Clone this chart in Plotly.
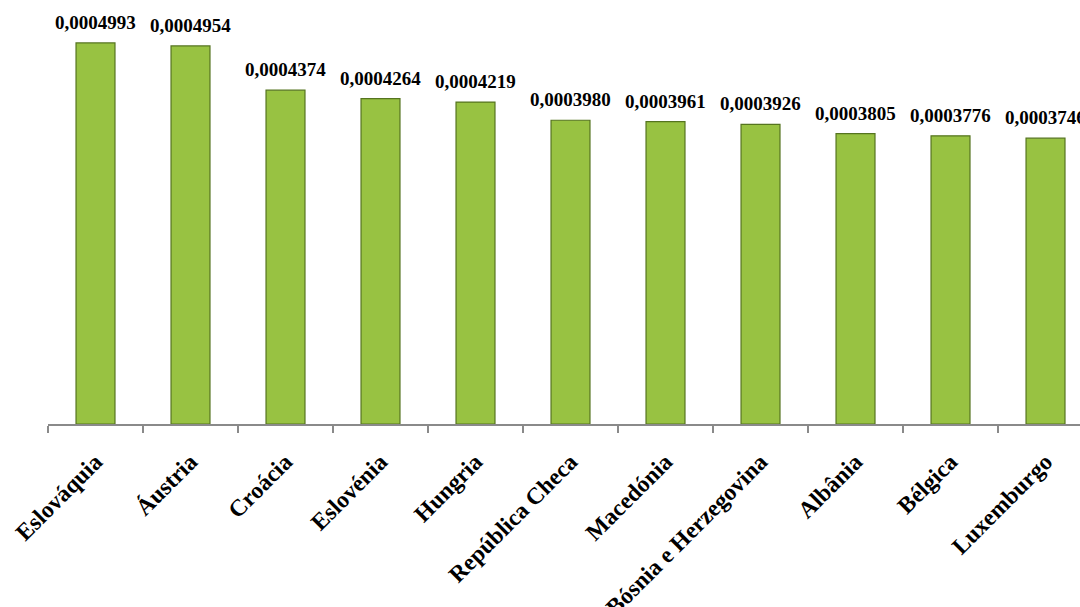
import plotly.graph_objects as go

countries = ["Eslováquia", "Áustria", "Croácia", "Eslovénia", "Hungria", "República Checa",
             "Macedónia", "Bósnia e Herzegovina", "Albânia", "Bélgica", "Luxemburgo"]
values = [0.0004993, 0.0004954, 0.0004374, 0.0004264, 0.0004219, 0.0003980,
          0.0003961, 0.0003926, 0.0003805, 0.0003776, 0.0003746]
labels = ["0,0004993", "0,0004954", "0,0004374", "0,0004264", "0,0004219", "0,0003980",
          "0,0003961", "0,0003926", "0,0003805", "0,0003776", "0,0003746"]

fig = go.Figure()
fig.add_trace(go.Bar(
    x=countries, y=values,
    marker=dict(color="#98c242", line=dict(color="#55741f", width=1.2)),
    width=0.41,
    hoverinfo="x+y",
))

for c, v, t in zip(countries, values, labels):
    fig.add_annotation(
        x=c, y=v, text=t, showarrow=False,
        xanchor="center", yanchor="bottom", yshift=8,
        font=dict(family="Liberation Serif", size=19, color="black", weight="bold"),
    )

fig.update_layout(
    width=1080, height=607,
    margin=dict(l=48, r=0, t=0, b=183, autoexpand=False),
    paper_bgcolor="white", plot_bgcolor="white",
    showlegend=False,
    font=dict(family="Liberation Serif", color="black"),
)
fig.update_xaxes(
    type="category",
    range=[-0.5, 10.363],
    automargin=False,
    showline=True, linecolor="#8a8a8a", linewidth=1.5,
    ticks="outside", tickson="boundaries", ticklen=7, tickcolor="#8a8a8a", tickwidth=1.5,
    tickangle=-45, ticklabelstandoff=13,
    tickfont=dict(family="Liberation Serif", size=23.5, color="black", weight="bold"),
    showgrid=False,
)
fig.update_yaxes(
    range=[0, 0.0005556],
    automargin=False,
    visible=False, showgrid=False, zeroline=False,
)

fig.write_html("out.html")
